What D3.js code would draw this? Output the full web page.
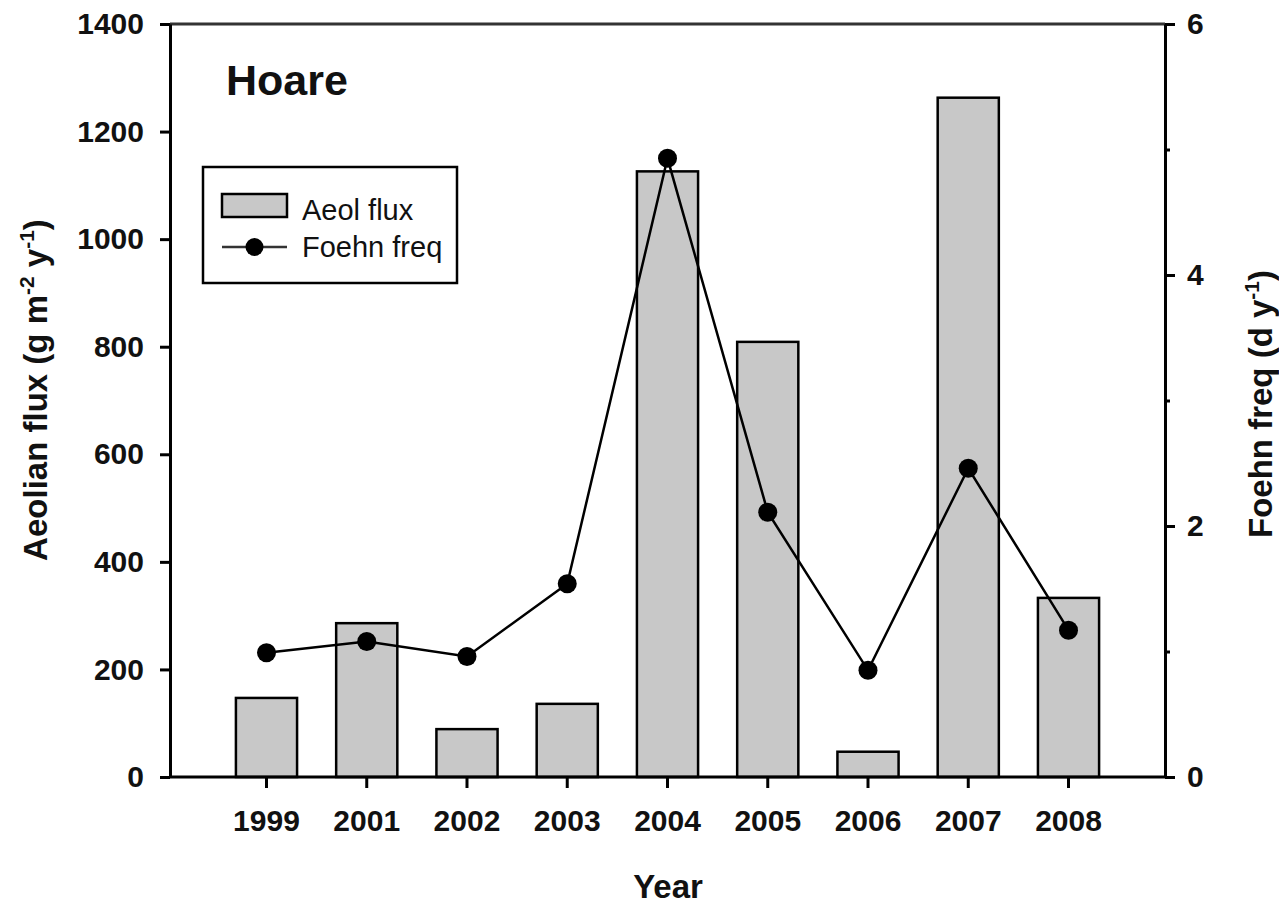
<!DOCTYPE html>
<html>
<head>
<meta charset="utf-8">
<script src="https://cdn.jsdelivr.net/npm/d3@7"></script>
<style>
  body { margin: 0; background: #fff; }
  svg { font-family: "Liberation Sans", Arial, sans-serif; }
  .axis text { font-weight: bold; font-size: 30px; fill: #111; }
  .axis path, .axis line { stroke: #000; stroke-width: 3; }
</style>
</head>
<body>
<div id="chart"></div>
<script>
var years = ["1999", "2001", "2002", "2003", "2004", "2005", "2006", "2007", "2008"];
var aeolFlux = [147, 286, 89, 136, 1126, 809, 47, 1263, 333];
var foehnFreq = [0.99, 1.08, 0.96, 1.54, 4.93, 2.11, 0.85, 2.46, 1.17];
var fluxTicks = [0, 200, 400, 600, 800, 1000, 1200, 1400];
var freqTicks = [0, 2, 4, 6];
var freqMinor = [1, 3, 5];

var width = 1279, height = 905;
var plotLeft = 170, plotRight = 1165, plotTop = 24, plotBottom = 777;

var svg = d3.select("#chart").append("svg")
    .attr("width", width)
    .attr("height", height);

var x = d3.scaleBand()
    .domain(years)
    .range([plotLeft, plotRight])
    .paddingInner(0.39)
    .paddingOuter(0.6575);

var yL = d3.scaleLinear().domain([0, 1400]).range([plotBottom, plotTop]);
var yR = d3.scaleLinear().domain([0, 6]).range([plotBottom, plotTop]);

// bars
svg.append("g")
    .selectAll("rect")
    .data(years)
    .enter().append("rect")
    .attr("x", function(d) { return x(d); })
    .attr("y", function(d, i) { return yL(aeolFlux[i]); })
    .attr("width", x.bandwidth())
    .attr("height", function(d, i) { return plotBottom - yL(aeolFlux[i]); })
    .attr("fill", "#c8c8c8")
    .attr("stroke", "#000")
    .attr("stroke-width", 2.5);

// foehn line
var line = d3.line()
    .x(function(d, i) { return x(years[i]) + x.bandwidth() / 2; })
    .y(function(d) { return yR(d); });

svg.append("path")
    .datum(foehnFreq)
    .attr("d", line)
    .attr("fill", "none")
    .attr("stroke", "#000")
    .attr("stroke-width", 2.5);

svg.append("g")
    .selectAll("circle")
    .data(foehnFreq)
    .enter().append("circle")
    .attr("cx", function(d, i) { return x(years[i]) + x.bandwidth() / 2; })
    .attr("cy", function(d) { return yR(d); })
    .attr("r", 9.5)
    .attr("fill", "#000");

// top frame
svg.append("line")
    .attr("x1", plotLeft).attr("x2", plotRight)
    .attr("y1", plotTop).attr("y2", plotTop)
    .attr("stroke", "#333")
    .attr("stroke-width", 3);

// axes
svg.append("g")
    .attr("class", "axis")
    .attr("transform", "translate(" + plotLeft + ",0)")
    .call(d3.axisLeft(yL).tickValues(fluxTicks).tickFormat(d3.format("d"))
        .tickSize(10).tickSizeOuter(0).tickPadding(16));

svg.append("g")
    .attr("class", "axis")
    .attr("transform", "translate(" + plotRight + ",0)")
    .call(d3.axisRight(yR).tickValues(freqTicks).tickFormat(d3.format("d"))
        .tickSize(10).tickSizeOuter(0).tickPadding(12));

svg.append("g")
    .attr("class", "axis")
    .attr("transform", "translate(" + plotRight + ",0)")
    .call(d3.axisRight(yR).tickValues(freqMinor).tickSize(5).tickSizeOuter(0).tickFormat(""))
    .select(".domain").remove();

svg.append("g")
    .attr("class", "axis")
    .attr("transform", "translate(0," + plotBottom + ")")
    .call(d3.axisBottom(x).tickSize(11).tickSizeOuter(0).tickPadding(22))
    .select(".domain").attr("d", "M" + plotLeft + ",0H" + plotRight);

// titles
svg.append("text")
    .attr("x", 226).attr("y", 95)
    .attr("font-size", 43).attr("font-weight", "bold").attr("fill", "#111")
    .text("Hoare");

svg.append("text")
    .attr("x", 668).attr("y", 898)
    .attr("text-anchor", "middle")
    .attr("font-size", 33).attr("font-weight", "bold").attr("fill", "#111")
    .text("Year");

var lt = svg.append("text")
    .attr("transform", "translate(47,390) rotate(-90)")
    .attr("text-anchor", "middle")
    .attr("font-size", 33).attr("font-weight", "bold").attr("fill", "#111");
lt.append("tspan").text("Aeolian flux (g m");
lt.append("tspan").attr("font-size", 21).attr("dy", -13).text("-2");
lt.append("tspan").attr("dy", 13).text(" y");
lt.append("tspan").attr("font-size", 21).attr("dy", -13).text("-1");
lt.append("tspan").attr("dy", 13).text(")");

var rt = svg.append("text")
    .attr("transform", "translate(1272,404) rotate(-90)")
    .attr("text-anchor", "middle")
    .attr("font-size", 33).attr("font-weight", "bold").attr("fill", "#111");
rt.append("tspan").text("Foehn freq (d y");
rt.append("tspan").attr("font-size", 21).attr("dy", -13).text("-1");
rt.append("tspan").attr("dy", 13).text(")");

// legend
var lg = svg.append("g");
lg.append("rect")
    .attr("x", 203).attr("y", 167).attr("width", 254).attr("height", 116)
    .attr("fill", "#fff").attr("stroke", "#000").attr("stroke-width", 2.5);
lg.append("rect")
    .attr("x", 222).attr("y", 194).attr("width", 65).attr("height", 23)
    .attr("fill", "#c8c8c8").attr("stroke", "#000").attr("stroke-width", 2.5);
lg.append("line")
    .attr("x1", 222).attr("x2", 287).attr("y1", 247).attr("y2", 247)
    .attr("stroke", "#333").attr("stroke-width", 2.5);
lg.append("circle")
    .attr("cx", 254.5).attr("cy", 247).attr("r", 9).attr("fill", "#000");
lg.append("text")
    .attr("x", 302).attr("y", 220)
    .attr("font-size", 29).attr("fill", "#111")
    .text("Aeol flux");
lg.append("text")
    .attr("x", 302).attr("y", 257)
    .attr("font-size", 29).attr("fill", "#111")
    .text("Foehn freq");
</script>
</body>
</html>
